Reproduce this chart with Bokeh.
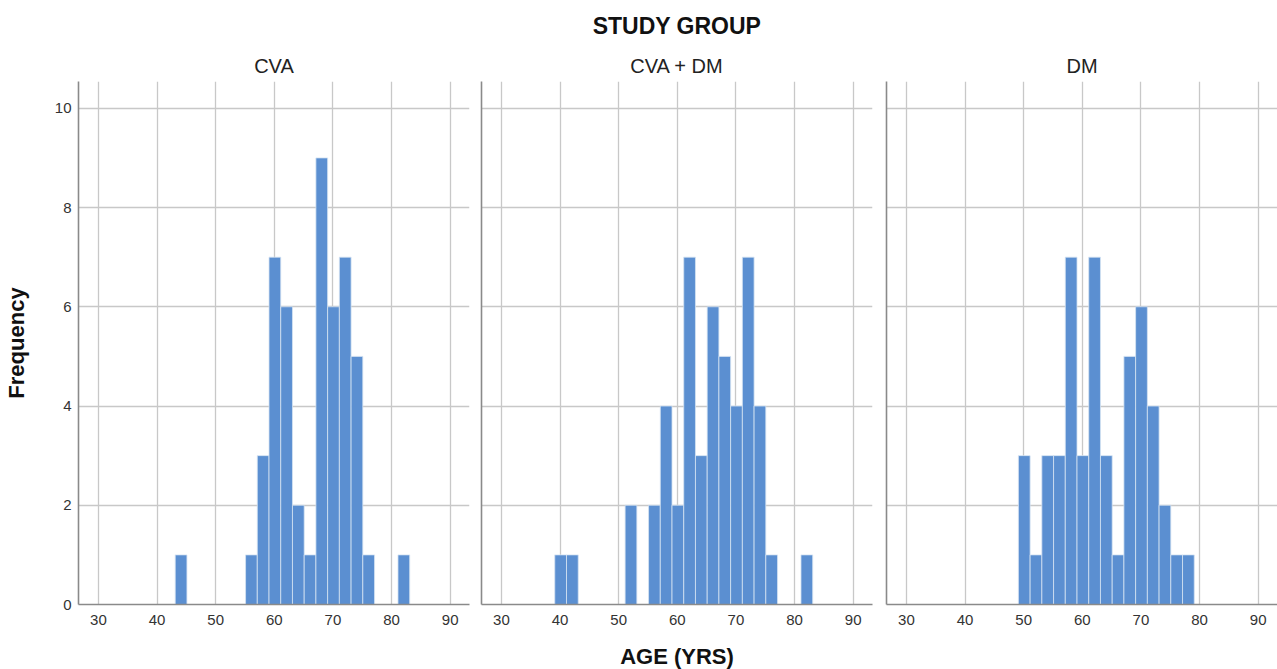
from bokeh.plotting import figure
from bokeh.layouts import row
from bokeh.models import Title, FixedTicker, Range1d, ColumnDataSource
from bokeh.embed import file_html
from bokeh.resources import INLINE

# ---------------- data ----------------
group_names = ["CVA", "CVA + DM", "DM"]

cva_bin_left = [43.1, 55.1, 57.1, 59.1, 61.1, 63.1, 65.1, 67.1, 69.1, 71.1, 73.1, 75.1, 81.1]
cva_counts = [1, 1, 3, 7, 6, 2, 1, 9, 6, 7, 5, 1, 1]

cvadm_bin_left = [39.1, 41.1, 51.1, 55.1, 57.1, 59.1, 61.1, 63.1, 65.1, 67.1, 69.1, 71.1, 73.1, 75.1, 81.1]
cvadm_counts = [1, 1, 2, 2, 4, 2, 7, 3, 6, 5, 4, 7, 4, 1, 1]

dm_bin_left = [49.1, 51.1, 53.1, 55.1, 57.1, 59.1, 61.1, 63.1, 65.1, 67.1, 69.1, 71.1, 73.1, 75.1, 77.1]
dm_counts = [3, 1, 3, 3, 7, 3, 7, 3, 1, 5, 6, 4, 2, 1, 1]

bin_width = 2.0
x_ticks = [30, 40, 50, 60, 70, 80, 90]
y_ticks = [0, 2, 4, 6, 8, 10]

main_title = "STUDY GROUP"
x_label = "AGE (YRS)"
y_label = "Frequency"

# ---------------- styling ----------------
FONT = "Liberation Sans"
BAR = "#5b8fd1"
GRID = "#c8c8c8"
AXIS = "#8a8a8a"
TICK_TXT = "#333333"

FRAME_W = 391
FRAME_H = 523
TOP = 80
BOTTOM = 66
X0, X1 = 26.6, 93.3
Y0, Y1 = 0, 10.54


def make_panel(name, lefts, counts, border_left, border_right, frame_w,
               first=False, middle=False):
    p = figure(
        width=border_left + frame_w + border_right,
        height=TOP + FRAME_H + BOTTOM,
        frame_width=frame_w, frame_height=FRAME_H,
        min_border_left=border_left, min_border_right=border_right,
        min_border_top=TOP, min_border_bottom=BOTTOM,
        x_range=Range1d(X0, X1), y_range=Range1d(Y0, Y1),
        output_backend="svg", toolbar_location=None, title=None,
    )
    src = ColumnDataSource(dict(
        left=lefts,
        right=[v + bin_width for v in lefts],
        top=counts,
        bottom=[0] * len(counts),
    ))
    p.quad(left="left", right="right", top="top", bottom="bottom", source=src,
           fill_color=BAR, line_color="#d6e3f3", line_width=0.8)

    p.outline_line_color = None
    p.background_fill_color = "white"
    p.border_fill_color = "white"

    p.xgrid.grid_line_color = GRID
    p.ygrid.grid_line_color = GRID
    p.xgrid.grid_line_width = 1.3
    p.ygrid.grid_line_width = 1.3
    p.xgrid.ticker = FixedTicker(ticks=x_ticks)
    p.ygrid.ticker = FixedTicker(ticks=y_ticks)

    for ax in (p.xaxis[0], p.yaxis[0]):
        ax.axis_line_color = AXIS
        ax.axis_line_width = 1.6
        ax.major_tick_line_color = None
        ax.minor_tick_line_color = None
        ax.major_tick_out = 0
        ax.major_tick_in = 0
        ax.major_label_text_font = FONT
        ax.major_label_text_font_size = "15px"
        ax.major_label_text_color = TICK_TXT
        ax.axis_label_text_font = FONT
        ax.axis_label_text_font_size = "22px"
        ax.axis_label_text_font_style = "bold"
        ax.axis_label_text_color = "#111111"

    p.xaxis.ticker = FixedTicker(ticks=x_ticks)
    p.yaxis.ticker = FixedTicker(ticks=y_ticks)
    p.xaxis.major_label_standoff = 10
    p.yaxis.major_label_standoff = 7

    if first:
        p.yaxis.axis_label = y_label
        p.yaxis.axis_label_standoff = 23
    else:
        p.yaxis.major_label_overrides = {t: "" for t in y_ticks}
        p.yaxis.major_label_standoff = 0

    if middle:
        p.xaxis.axis_label = x_label
        p.xaxis.axis_label_standoff = 16

    p.add_layout(Title(text=name, align="center", text_font=FONT,
                       text_font_size="20px", text_font_style="normal",
                       text_color="#222222", standoff=9), "above")
    if middle:
        p.add_layout(Title(text=main_title, align="center", text_font=FONT,
                           text_font_size="23px", text_font_style="bold",
                           text_color="#111111", standoff=20), "above")
    return p


p1 = make_panel(group_names[0], cva_bin_left, cva_counts, 70, 6, FRAME_W, first=True)
p2 = make_panel(group_names[1], cvadm_bin_left, cvadm_counts, 6, 7, FRAME_W, middle=True)
p3 = make_panel(group_names[2], dm_bin_left, dm_counts, 7, 0, FRAME_W)

layout = row(p1, p2, p3, spacing=0)

open("out.html", "w").write(file_html(layout, INLINE))
